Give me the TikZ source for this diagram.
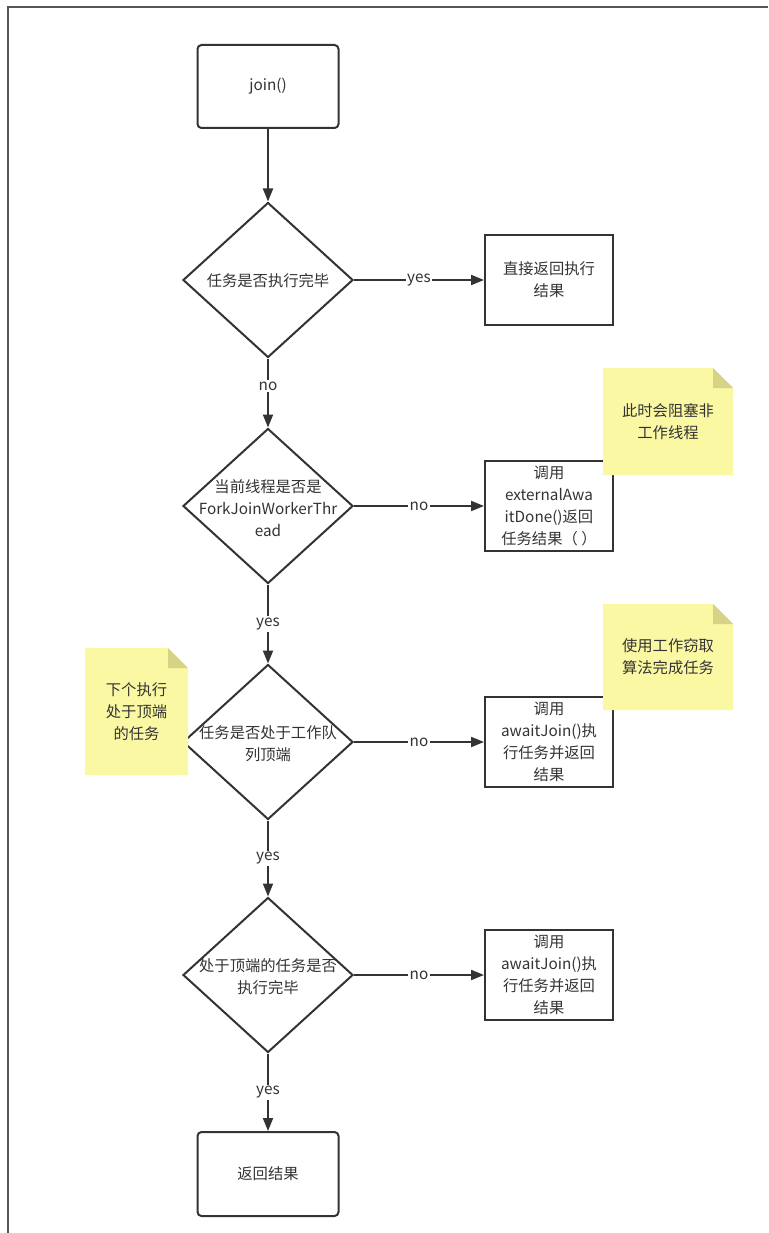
\documentclass[tikz,border=0pt]{standalone}
\usepackage{fontspec}
\setmainfont{Noto Sans CJK SC}
\usetikzlibrary{shapes.geometric,arrows.meta,calc}
\definecolor{ln}{HTML}{333333}
\definecolor{frm}{HTML}{555555}
\definecolor{notey}{HTML}{FBF8A3}
\definecolor{notef}{HTML}{D6D286}
\tikzset{
 txt/.style={text=ln,font=\fontsize{15.3}{22}\selectfont,align=center},
 base/.style={txt,draw=ln,line width=2pt,inner sep=0pt},
 rbox/.style={base,rounded corners=4pt,minimum width=141pt,minimum height=83pt},
 sbox/.style={base,minimum width=128pt,minimum height=90pt},
 dia/.style={draw=ln,line width=2pt,diamond,inner sep=0pt,minimum width=170pt,minimum height=155pt},
 dtxt/.style={txt,inner sep=0pt},
 note/.style={txt,inner sep=0pt,
   path picture={
     \fill[notey] (path picture bounding box.south west) -- (path picture bounding box.north west)
        -- ($(path picture bounding box.north east)+(-20,0)$)
        -- ($(path picture bounding box.north east)+(0,20)$)
        -- (path picture bounding box.south east) -- cycle;
     \fill[notef] ($(path picture bounding box.north east)+(-20,0)$)
        -- ($(path picture bounding box.north east)+(-20,20)$)
        -- ($(path picture bounding box.north east)+(0,20)$) -- cycle;
   }},
 arr/.style={draw=ln,line width=2pt,-{Triangle[length=13pt,width=10pt]}},
 lbl/.style={fill=white,text=ln,font=\fontsize{15.3}{18}\selectfont,inner sep=1.5pt}
}
\begin{document}
\begin{tikzpicture}[x=1pt,y=-1pt]
\useasboundingbox (0,0) rectangle (768,1233);
\draw[frm,line width=2pt] (8,1233) -- (8,7) -- (768,7);

\node[rbox] (start) at (268,86.5) {join()};
\node[dia] (d1) at (268,280) {};
\node[dtxt] (t1) at (268,281) {任务是否执行完毕};
\node[sbox] (r1) at (549,280) {直接返回执行\\结果};

\node[dia] (d2) at (268,506) {};
\node[dtxt] (t2) at (268,508) {当前线程是否是\\ForkJoinWorkerThr\\ead};
\node[sbox] (r2) at (549,506) {调用\\externalAwa\\itDone()返回\\任务结果（ ）};

\node[dia] (d3) at (268,742) {};
\node[dtxt] (t3) at (268,744) {任务是否处于工作队\\列顶端};
\node[sbox] (r3) at (549,742) {调用\\awaitJoin()执\\行任务并返回\\结果};

\node[dia] (d4) at (268,975) {};
\node[dtxt] (t4) at (268,977) {处于顶端的任务是否\\执行完毕};
\node[sbox] (r4) at (549,975) {调用\\awaitJoin()执\\行任务并返回\\结果};

\node[rbox,minimum height=84pt] (end) at (268,1174) {返回结果};

\node[note,minimum width=130pt,minimum height=107pt] (n1) at (668,421.5) {此时会阻塞非\\工作线程};
\node[note,minimum width=130pt,minimum height=106pt] (n2) at (668,657) {使用工作窃取\\算法完成任务};
\node[note,minimum width=103pt,minimum height=127pt] (n3) at (136.5,711.5) {下个执行\\处于顶端\\的任务};

\draw[arr] (start.south) -- (d1.north);
\draw[arr] (d1.east) -- node[lbl]{yes} (r1.west);
\draw[arr] (d1.south) -- node[lbl,pos=0.4]{no} (d2.north);
\draw[arr] (d2.east) -- node[lbl]{no} (r2.west);
\draw[arr] (d2.south) -- node[lbl]{yes} (d3.north);
\draw[arr] (d3.east) -- node[lbl]{no} (r3.west);
\draw[arr] (d3.south) -- node[lbl]{yes} (d4.north);
\draw[arr] (d4.east) -- node[lbl]{no} (r4.west);
\draw[arr] (d4.south) -- node[lbl]{yes} (end.north);
\end{tikzpicture}
\end{document}
